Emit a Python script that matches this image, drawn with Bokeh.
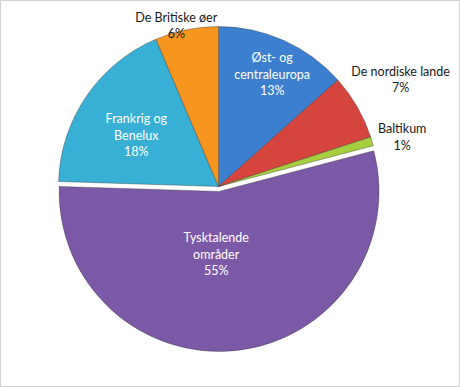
import numpy as np
from bokeh.plotting import figure
from bokeh.models import Range1d, ColumnDataSource
from bokeh.core.properties import value
from bokeh.embed import file_html
from bokeh.resources import INLINE

# ---- data ----
categories = ["Øst- og\ncentraleuropa", "De nordiske lande", "Baltikum",
              "Tysktalende\nområder", "Frankrig og\nBenelux", "De Britiske øer"]
shares = [13.4, 6.6, 0.9, 54.6, 18.1, 6.4]
pct_labels = ["13%", "7%", "1%", "55%", "18%", "6%"]

# ---- styling / layout ----
colors = ["#3d7fcf", "#d6443e", "#a6ce3e", "#7c59a7", "#38afd4", "#f7961f"]
inside = [True, False, False, True, True, False]
explode = [0, 0, 0, 5, 0, 0]
label_r = [0.775, 1.32, 1.19, 0.395, 0.60, 1.04]
nudge = [(3, -1), (-1, 2), (1, -4), (-10, 0), (-3, -3), (-9, -2)]

W, H = 460, 387
cx, cy = 218, H - 186   # pixel coordinates, y up
R = 160

vals = np.array(shares, dtype=float)
frac = vals / vals.sum()
cum = np.concatenate([[0], np.cumsum(frac)])
# clockwise from 12 o'clock -> math angles
start_math = np.pi / 2 - cum[1:] * 2 * np.pi
end_math = np.pi / 2 - cum[:-1] * 2 * np.pi
mid_math = (start_math + end_math) / 2

xs = cx + np.array(explode) * np.cos(mid_math)
ys = cy + np.array(explode) * np.sin(mid_math)

src = ColumnDataSource(dict(x=xs, y=ys, start=start_math, end=end_math, color=colors))

p = figure(width=W, height=H, x_range=Range1d(0, W), y_range=Range1d(0, H),
           output_backend="svg", toolbar_location=None, min_border=0)
p.axis.visible = False
p.grid.visible = False
p.outline_line_color = "#d0d0d0"
p.background_fill_color = "white"

p.wedge(x="x", y="y", radius=R, start_angle="start", end_angle="end",
        fill_color="color", line_color="#2a2a2a", line_alpha=0.45, line_width=0.8, source=src)

tx, ty, tt, tc = [], [], [], []
for i in range(len(shares)):
    r = label_r[i] * R
    x = xs[i] + r * np.cos(mid_math[i]) + nudge[i][0]
    y = ys[i] + r * np.sin(mid_math[i]) + nudge[i][1]
    tx.append(x)
    ty.append(y)
    tt.append(categories[i] + "\n" + pct_labels[i])
    tc.append("white" if inside[i] else "#1a1a1a")

tsrc = ColumnDataSource(dict(x=tx, y=ty, text=tt, color=tc))
p.text(x="x", y="y", text="text", text_color="color", source=tsrc,
       text_align="center", text_baseline="middle", text_font=value("Lato"),
       text_font_size="12.5px", text_line_height=1.1)

open("out.html", "w").write(file_html(p, INLINE))
